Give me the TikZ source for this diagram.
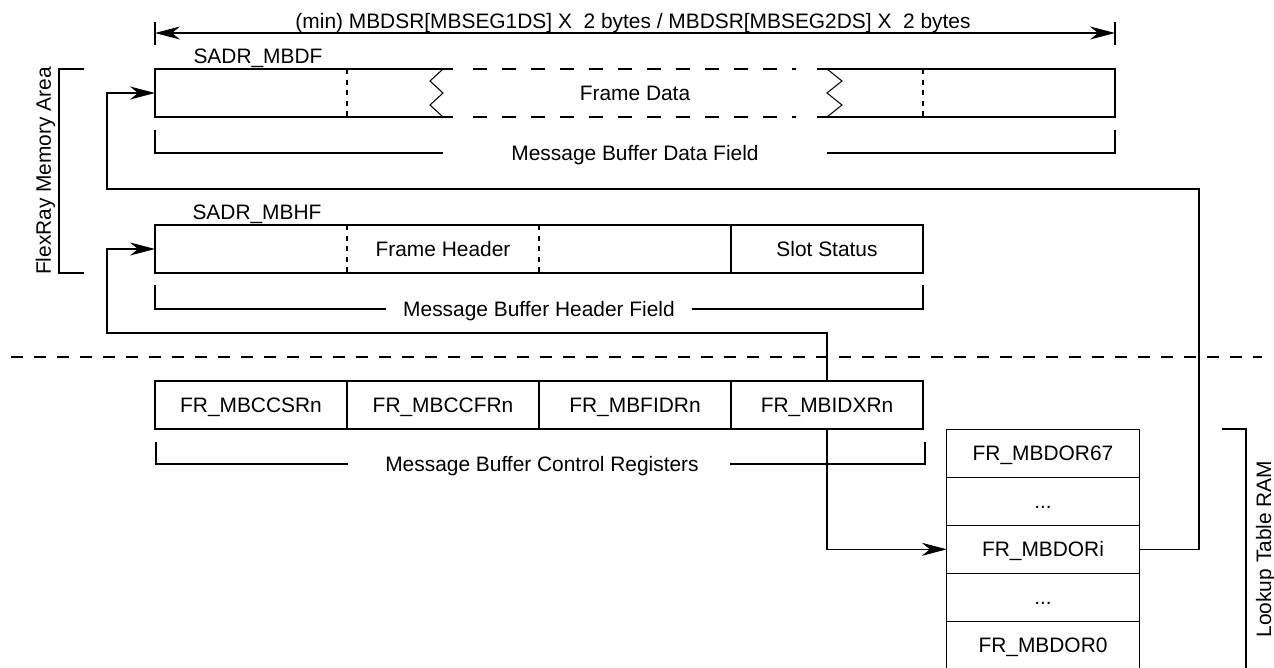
\documentclass[tikz,border=0pt]{standalone}
\usepackage{fontspec}
\setmainfont{Liberation Sans}
\usetikzlibrary{positioning,arrows.meta}

\newcommand\dotsrow{...}

\begin{document}
\begin{tikzpicture}[
        x=0.02cm, y=-0.02cm,
        line width=0.6pt,
        font=\fontsize{11.9}{14}\selectfont,
        lbl/.style={text height=8.5pt, text depth=0pt, inner sep=0pt},
        cell/.style={lbl, minimum width=3.84cm, minimum height=0.96cm, outer sep=0pt},
        reg/.style={cell, draw},
        head/.tip={Stealth[length=5mm, width=2.6mm, inset=1.6mm]},
        tip/.style={-head},
        divider/.style={dash pattern=on 3pt off 3pt},
        brk/.style={dash pattern=on 0.28cm off 0.3cm},
        sep/.style={dash pattern=on 0.25cm off 0.21cm}
    ]
        \useasboundingbox (0,0) rectangle (1274,667);

        % Data field
        \foreach \i in {1,...,5}
            \node[cell] (D-\i) at (59+192*\i, 93) {};
        \node[lbl] (framedata) at (D-3) {Frame Data};
        \node[anchor=base west, inner sep=0pt] (sadrdf) at (193,63) {SADR\_MBDF};

        \draw (453,69) -- (155,69) -- (155,117) -- (453,117);
        \draw (443,69) -- (430,81) -- (443,93) -- (430,105) -- (443,117);
        \draw[brk] (473,69) -- (796,69) (473,117) -- (796,117);
        \draw (827,69) -- (842,81) -- (827,93) -- (842,105) -- (827,117);
        \draw (817,69) -- (1115,69) -- (1115,117) -- (817,117);
        \draw[divider] (D-1.north east) -- (D-1.south east);
        \draw[divider] (D-4.north east) -- (D-4.south east);

        % Size of the data field
        \coordinate (dimL) at (155,33);
        \coordinate (dimR) at (1115,33);
        \draw (155,22) -- (155,45) (1115,22) -- (1115,45);
        \draw[head-head] (dimL) -- (dimR);
        \node[anchor=base, inner sep=0pt] (dimtext) at (633,28)
            {(min) MBDSR[MBSEG1DS] X\ \ 2 bytes / MBDSR[MBSEG2DS] X\ \ 2 bytes};

        % Data field bracket
        \node[lbl] (dflabel) at (635,153) {Message Buffer Data Field};
        \draw (155,130) -- (155,153) -- (443,153);
        \draw (827,153) -- (1115,153) -- (1115,130);

        % Header field
        \foreach \i/\txt in {1/, 2/Frame Header, 3/, 4/Slot Status}
            \node[cell] (H-\i) at (59+192*\i, 249) {\txt};
        \node[anchor=base west, inner sep=0pt] (sadrhf) at (192,219) {SADR\_MBHF};
        \draw (H-1.north west) rectangle (H-4.south east);
        \draw[divider] (H-1.north east) -- (H-1.south east);
        \draw[divider] (H-2.north east) -- (H-2.south east);
        \draw (H-3.north east) -- (H-3.south east);

        % Header field bracket
        \node[lbl] (hflabel) at (539,309) {Message Buffer Header Field};
        \draw (155,285) -- (155,309) -- (386,309);
        \draw (692,309) -- (923,309) -- (923,285);

        % FlexRay memory bracket
        \draw (84,69) -- (59,69) -- (59,273) -- (84,273);
        \node[rotate=90, anchor=base, inner sep=0pt] (frlabel) at (51,171) {FlexRay Memory Area};

        % Separator
        \draw[sep] (11,357) -- (1262,357);

        % Control registers
        \foreach \i/\txt in {1/FR\_MBCCSRn, 2/FR\_MBCCFRn, 3/FR\_MBFIDRn, 4/FR\_MBIDXRn}
            \node[reg] (R-\i) at (59+192*\i, 405) {\txt};

        \node[lbl] (crlabel) at (542,464) {Message Buffer Control Registers};
        \draw (156,442) -- (156,464) -- (348,464);
        \draw (730,464) -- (925,464) -- (925,442);

        % Lookup table
        \foreach \i/\txt in {1/FR\_MBDOR67, 2/\dotsrow, 3/FR\_MBDORi, 4/\dotsrow, 5/FR\_MBDOR0}
            \node[reg, minimum width=3.846cm] (L-\i) at (1043, 405.3+48*\i) {\txt};
        \draw (1222,429) -- (1246,429) -- (1246,680);
        \node[rotate=90, anchor=base, inner sep=0pt] (ltlabel) at (1271,549) {Lookup Table RAM};

        % Connections
        \coordinate (c1) at (1199,189);
        \coordinate (c2) at (107,189);
        \coordinate (c3) at (107,333);
        \draw[tip] (L-3.east) -| (c1) -- (c2) |- (D-1.west);
        \draw[tip] (R-4.north) |- (c3) |- (H-1.west);
        \draw[tip] (R-4.south) |- (L-3.west);
    \end{tikzpicture}
\end{document}
